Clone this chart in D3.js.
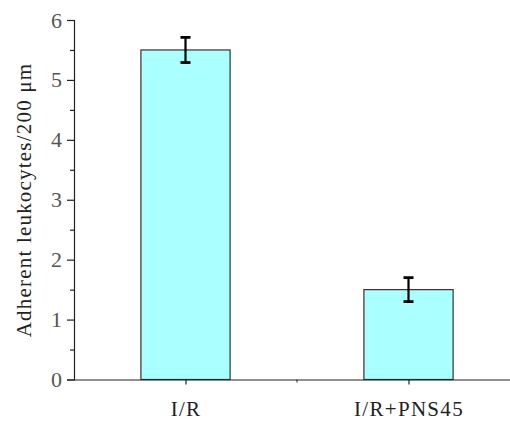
<!DOCTYPE html>
<html><head><meta charset="utf-8">
<script src="https://cdn.jsdelivr.net/npm/d3@7"></script>
<style>body{margin:0;background:#fff}svg{display:block}</style>
</head><body>
<script>
const categories = ["I/R", "I/R+PNS45"];
const values = [5.5, 1.5];
const errors = [0.21, 0.2];
const yTicks = [0, 1, 2, 3, 4, 5, 6];
const yMinorTicks = [0.5, 1.5, 2.5, 3.5, 4.5, 5.5];
const yLabel = "Adherent leukocytes/200 μm";

const W = 510, H = 421;
const svg = d3.select("body").append("svg").attr("width", W).attr("height", H);
const font = '"Liberation Serif"';

const x = d3.scalePoint().domain(categories).range([74, 520]).padding(0.5);
const y = d3.scaleLinear().domain([0, 6]).range([379.5, 20]);
const bw = x.step() * 0.4;

// bars
svg.selectAll("rect.bar").data(categories).join("rect")
  .attr("class", "bar")
  .attr("x", d => x(d) - bw / 2)
  .attr("y", (d, i) => y(values[i]))
  .attr("width", bw)
  .attr("height", (d, i) => y(0) - y(values[i]))
  .attr("fill", "#aaffff")
  .attr("stroke", "#333")
  .attr("stroke-width", 1.2);

// error bars
const eb = svg.append("g").attr("stroke", "#000").attr("stroke-width", 2.2);
categories.forEach((c, i) => {
  const cx = x(c);
  eb.append("line").attr("x1", cx).attr("x2", cx).attr("y1", y(values[i] + errors[i])).attr("y2", y(values[i] - errors[i]));
  [values[i] + errors[i], values[i] - errors[i]].forEach(v => {
    eb.append("line").attr("x1", cx - 5).attr("x2", cx + 5).attr("y1", y(v)).attr("y2", y(v)).attr("stroke-width", 2.8);
  });
});

// y axis
const gy = svg.append("g").attr("transform", "translate(74,0)")
  .call(d3.axisLeft(y).tickValues(yTicks).tickFormat(d3.format("d")).tickSize(7).tickPadding(5));
svg.append("g").attr("transform", "translate(74,0)")
  .call(d3.axisLeft(y).tickValues(yMinorTicks).tickFormat("").tickSize(4))
  .select(".domain").remove();

// x axis
const gx = svg.append("g").attr("transform", `translate(0,${y(0)})`)
  .call(d3.axisBottom(x).tickSize(5).tickPadding(17));
gx.select(".domain").attr("d", `M74,0.5H${W}`);
const mid = (x(categories[0]) + x(categories[1])) / 2;
gx.append("line").attr("x1", mid).attr("x2", mid).attr("y1", 0).attr("y2", 3).attr("stroke", "#222");

svg.selectAll(".domain, .tick line").attr("stroke", "#222").attr("stroke-width", 1.2);
gy.selectAll(".tick text").style("font-family", font).style("font-size", "22px").attr("fill", "#555");
gx.selectAll(".tick text").style("font-family", font).style("font-size", "21px").attr("fill", "#222").style("letter-spacing", "1.3px");

// y label
svg.append("text")
  .attr("transform", `translate(31,${200}) rotate(-90)`)
  .attr("text-anchor", "middle")
  .style("font-family", font).style("font-size", "21px").attr("fill", "#222")
  .style("letter-spacing", "1.2px")
  .text(yLabel);
</script>
</body></html>
